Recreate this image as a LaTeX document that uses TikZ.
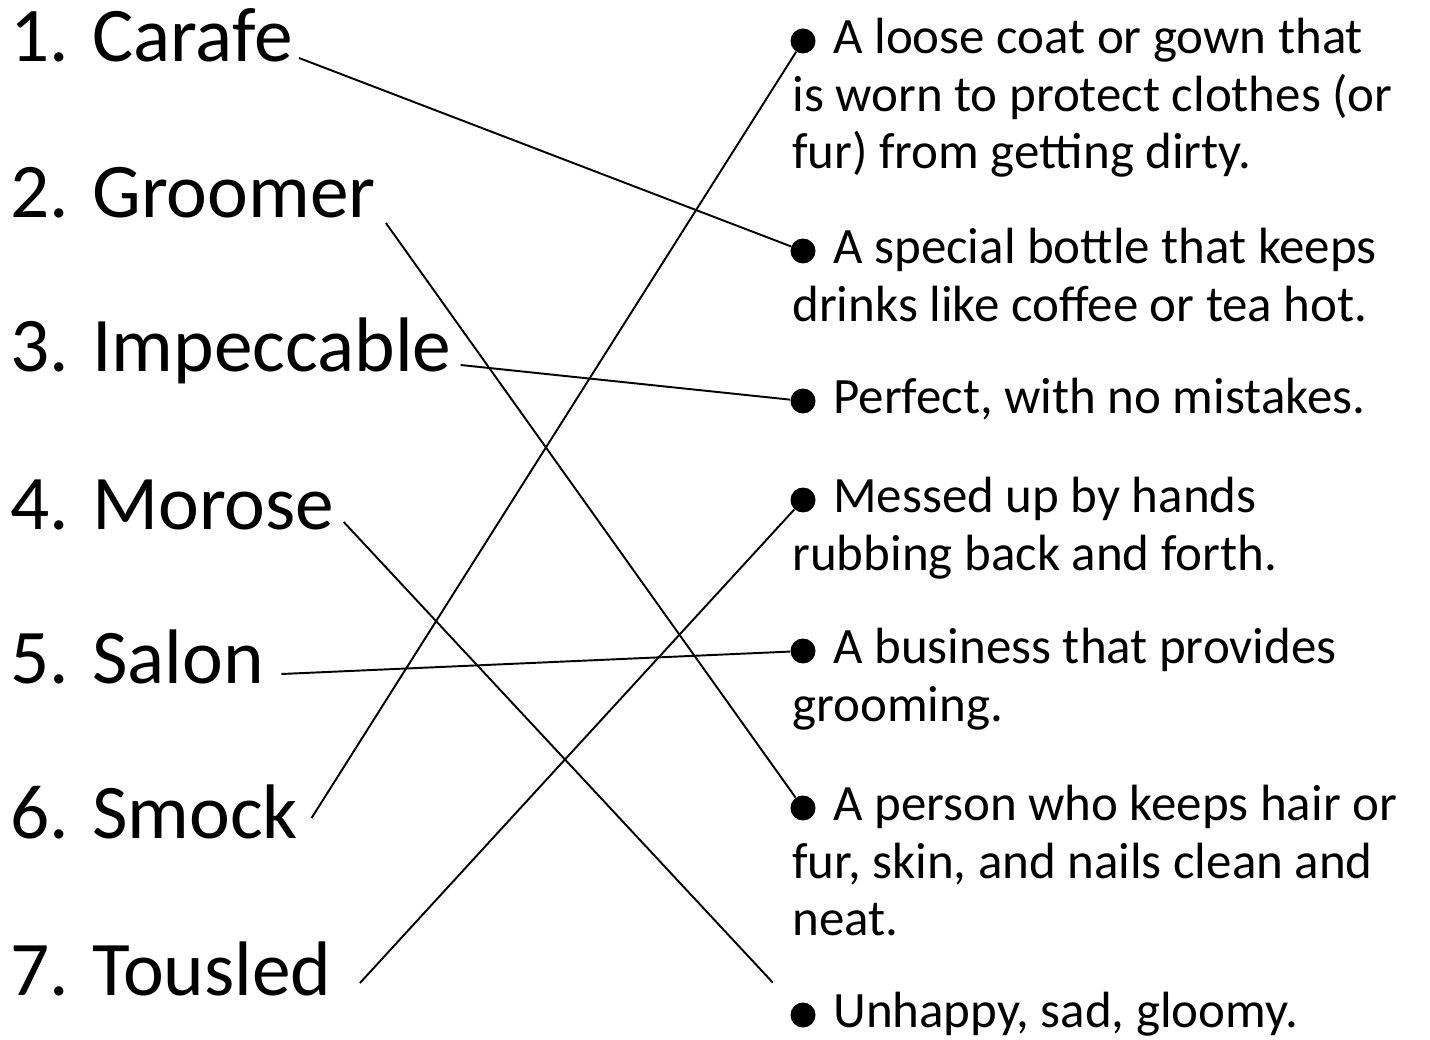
\documentclass[tikz,border=0pt]{standalone}
\usepackage{fontspec}
\setmainfont{Carlito}
\usetikzlibrary{positioning}

\begin{document}
\begin{tikzpicture}
    [x=0.02cm, y=-0.02cm,
    wordnode/.style={anchor=base west, inner sep=0pt, font=\fontsize{44}{46}\selectfont},
    meaningnode/.style={anchor=north west, inner sep=0pt, align=left, font=\fontsize{29}{32.9}\selectfont},
    dotnode/.style={circle, fill=black, inner sep=0pt, minimum size=0.5cm},
    link/.style={draw=black, line width=1.1pt}]

    \useasboundingbox (0,0) rectangle (1430,1040);

    %Words
    \node[wordnode] (carafe) at (10,62) {1. Carafe};
    \node[wordnode] (groomer) at (10,218) {2. Groomer};
    \node[wordnode] (impeccable) at (10,372) {3. Impeccable};
    \node[wordnode] (morose) at (10,529) {4. Morose};
    \node[wordnode] (salon) at (10,683) {5. Salon};
    \node[wordnode] (smock) at (10,838) {6. Smock};
    \node[wordnode] (tousled) at (10,995) {7. Tousled};

    %Meanings (first baseline sits 40.6 below the top)
    \node[meaningnode] (coat) at (792,12.4) {\strut\hspace*{0.82cm}A loose coat or gown that\\is worn to protect clothes (or\\fur) from getting dirty.};
    \node[meaningnode] (bottle) at (792,222.4) {\strut\hspace*{0.82cm}A special bottle that keeps\\drinks like coffee or tea hot.};
    \node[meaningnode] (perfect) at (792,372.4) {\strut\hspace*{0.82cm}Perfect, with no mistakes.};
    \node[meaningnode] (messed) at (792,471.4) {\strut\hspace*{0.82cm}Messed up by hands\\rubbing back and forth.};
    \node[meaningnode] (business) at (792,622.4) {\strut\hspace*{0.82cm}A business that provides\\grooming.};
    \node[meaningnode] (person) at (792,779.4) {\strut\hspace*{0.82cm}A person who keeps hair or\\fur, skin, and nails clean and\\neat.};
    \node[meaningnode] (unhappy) at (792,986.4) {\strut\hspace*{0.82cm}Unhappy, sad, gloomy.};

    %Bullets
    \node[dotnode] (coatdot) at ([shift={(11,28.6)}]coat.north west) {};
    \node[dotnode] (bottledot) at ([shift={(11,28.6)}]bottle.north west) {};
    \node[dotnode] (perfectdot) at ([shift={(11,28.6)}]perfect.north west) {};
    \node[dotnode] (messeddot) at ([shift={(11,28.6)}]messed.north west) {};
    \node[dotnode] (businessdot) at ([shift={(11,28.6)}]business.north west) {};
    \node[dotnode] (persondot) at ([shift={(11,28.6)}]person.north west) {};
    \node[dotnode] (unhappydot) at ([shift={(11,28.6)}]unhappy.north west) {};

    %Links
    \draw[link] ([shift={(6,-4)}]carafe.base east) -- (bottledot);
    \draw[link] ([shift={(10,5)}]groomer.base east) -- (persondot);
    \draw[link] ([shift={(9,-7)}]impeccable.base east) -- (perfectdot);
    \draw[link, shorten >=0.63cm] ([shift={(9,-7)}]morose.base east) -- (unhappydot);
    \draw[link] ([shift={(17,-9)}]salon.base east) -- (businessdot);
    \draw[link] ([shift={(13,-20)}]smock.base east) -- (coatdot);
    \draw[link] ([shift={(28,-12)}]tousled.base east) -- (messeddot);
\end{tikzpicture}
\end{document}
